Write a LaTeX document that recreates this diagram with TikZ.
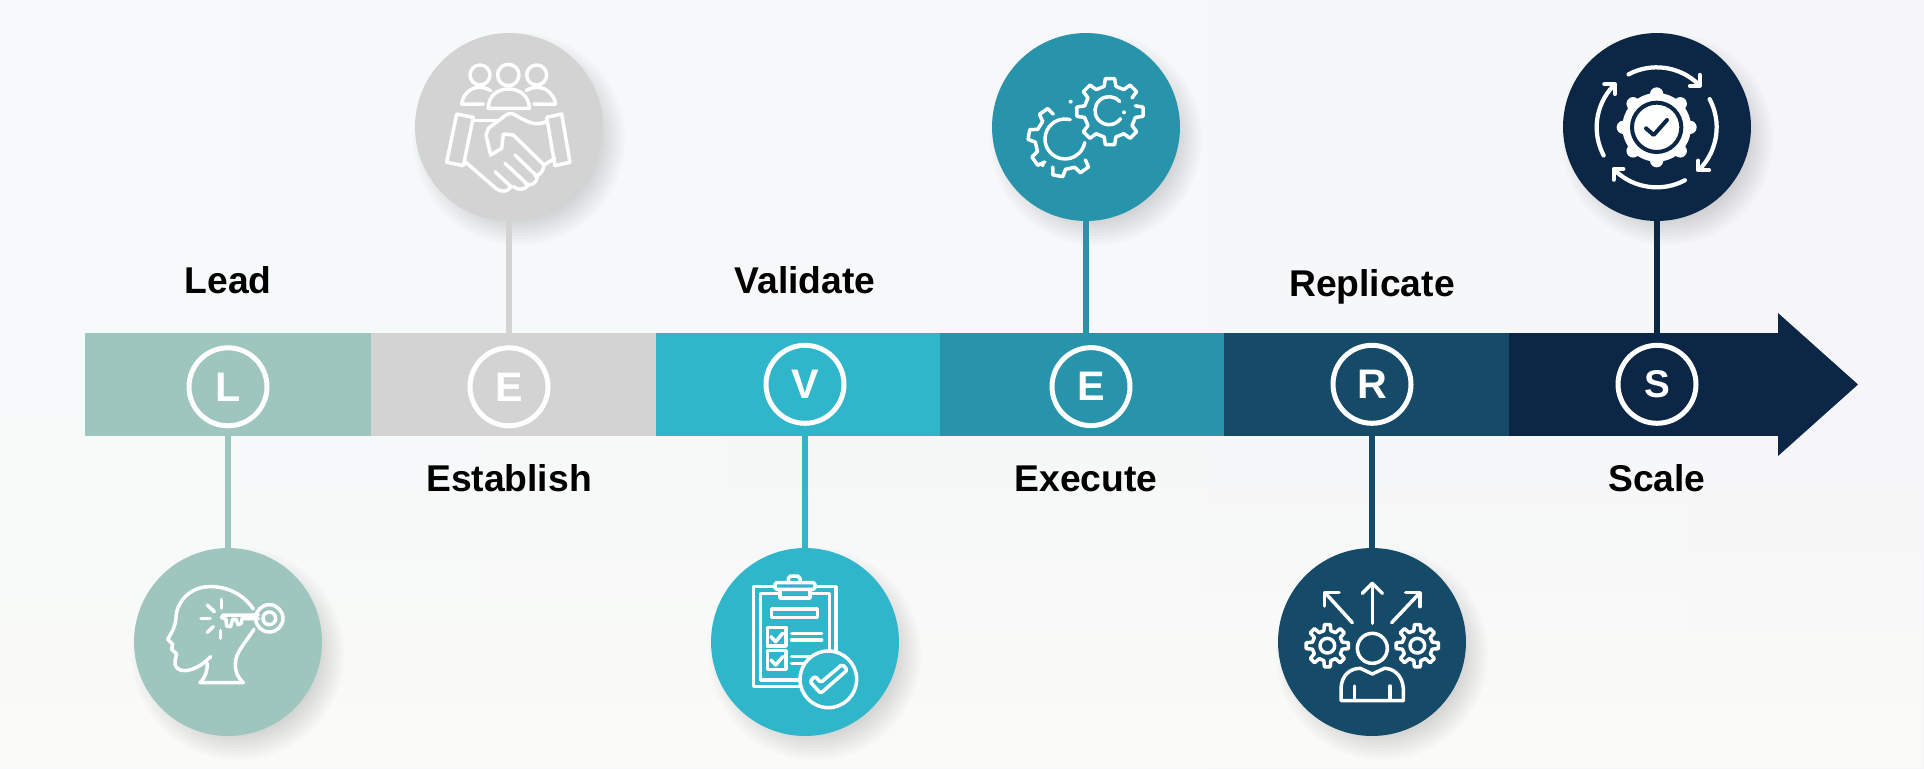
\documentclass[tikz,border=0pt]{standalone}
\usepackage{fontspec}
\setmainfont{Liberation Sans}
\usetikzlibrary{fadings}
\definecolor{clrLead}{HTML}{9FC5BF}
\definecolor{clrEstablish}{HTML}{D3D3D3}
\definecolor{clrValidate}{HTML}{2FB6CB}
\definecolor{clrExecute}{HTML}{2794AB}
\definecolor{clrReplicate}{HTML}{154B68}
\definecolor{clrScale}{HTML}{0C2646}
\definecolor{bgLeft}{HTML}{F6FAFA}
\definecolor{bgRight}{HTML}{F6F6F8}
\definecolor{bgLow}{HTML}{FBFBF8}
\tikzset{
	seg/.style={rectangle,inner sep=0pt,outer sep=0pt,minimum height=2.06cm},
	ltr/.style={circle,draw=white,line width=.1cm,inner sep=0pt,minimum size=1.56cm,text=white,font=\bfseries\fontsize{23.5}{28}\selectfont},
	bigdisc/.style={circle,inner sep=0pt,outer sep=0pt,minimum size=3.76cm},
	lbl/.style={anchor=base,inner sep=0pt,text=black,font=\bfseries\fontsize{21.2}{25}\selectfont},
	stem/.style={line width=.12cm},
	icn/.style={draw=white,line width=.07cm,line cap=round,line join=round},
	zoomed/.style={x=.00667cm,y=-.00667cm}
}
% soft shadow under a disc
\newcommand{\softshadow}[2]{
	\foreach \r in {70,73,...,106}
		\fill[black,opacity=.017] (#1+10,#2+12) circle [radius=\r];
}
% part of a gear outline: centre, outer radius, root radius, phase, first tooth, last tooth
\newcommand{\gearpart}[6]{
	\draw[icn,shift={#1}] ({#4+#5*45-13}:#3)
		\foreach \k in {#5,...,#6} {
			-- ({#4+\k*45-13}:#3) -- ({#4+\k*45-8}:#2) -- ({#4+\k*45+8}:#2) -- ({#4+\k*45+13}:#3)
		};
}
\begin{document}
\begin{tikzpicture}[x=.02cm,y=-.02cm]
	\useasboundingbox (0,0) rectangle (1924,768);
	\fill[left color=bgLeft,right color=bgRight] (0,0) rectangle (1924,768);
	\fill[bgLow,path fading=north] (0,420) rectangle (1924,768);

	\softshadow{228}{642}
	\softshadow{509}{127}
	\softshadow{805}{642}
	\softshadow{1086}{127}
	\softshadow{1372}{642}
	\softshadow{1657}{127}

	% the bar
	\node[seg,fill=clrLead,minimum width=5.73cm] (segLead) at (228,384.2) {};
	\node[seg,fill=clrEstablish,minimum width=5.72cm] (segEstablish) at (513.75,384.2) {};
	\node[seg,fill=clrValidate,minimum width=5.68cm] (segValidate) at (798.25,384.2) {};
	\node[seg,fill=clrExecute,minimum width=5.70cm] (segExecute) at (1082.3,384.2) {};
	\node[seg,fill=clrReplicate,minimum width=5.69cm] (segReplicate) at (1366.65,384.2) {};
	\node[seg,fill=clrScale,minimum width=5.39cm] (segScale) at (1643.35,384.2) {};
	\coordinate (tip) at (1858,384.5);
	\fill[clrScale] (1778,313) -- (tip) -- (1778,456) -- cycle;

	% letters
	\node[ltr] (ltrLead) at (228,386.8) {L};
	\node[ltr] (ltrEstablish) at (509,386.8) {E};
	\node[ltr] (ltrValidate) at (805,384.3) {V};
	\node[ltr] (ltrExecute) at (1091,386.6) {E};
	\node[ltr] (ltrReplicate) at (1372,384.3) {R};
	\node[ltr,font=\bfseries\fontsize{22}{26}\selectfont] (ltrScale) at (1657,384.3) {S};

	% discs
	\node[bigdisc,fill=clrLead] (discLead) at (228,642) {};
	\node[bigdisc,fill=clrEstablish] (discEstablish) at (509,127) {};
	\node[bigdisc,fill=clrValidate] (discValidate) at (805,642) {};
	\node[bigdisc,fill=clrExecute] (discExecute) at (1086,127) {};
	\node[bigdisc,fill=clrReplicate] (discReplicate) at (1372,642) {};
	\node[bigdisc,fill=clrScale] (discScale) at (1657,127) {};

	% stems
	\draw[stem,clrLead] (discLead.north) -- (discLead.north |- segLead.south);
	\draw[stem,clrEstablish] (discEstablish.south) -- (discEstablish.south |- segEstablish.north);
	\draw[stem,clrValidate] (discValidate.north) -- (discValidate.north |- segValidate.south);
	\draw[stem,clrExecute] (discExecute.south) -- (discExecute.south |- segExecute.north);
	\draw[stem,clrReplicate] (discReplicate.north) -- (discReplicate.north |- segReplicate.south);
	\draw[stem,clrScale] (discScale.south) -- (discScale.south |- segScale.north);

	% labels
	\node[lbl] (lblLead) at (228,293) {Lead};
	\node[lbl] (lblEstablish) at (509,491) {Establish};
	\node[lbl] (lblValidate) at (805,293) {Validate};
	\node[lbl] (lblExecute) at (1086,491) {Execute};
	\node[lbl] (lblReplicate) at (1372,296) {Replicate};
	\node[lbl] (lblScale) at (1657,491) {Scale};

	% head with key
	\begin{scope}[shift={(120,530)},zoomed]
		\draw[icn] (400,237) .. controls (365,185) and (310,168) .. (265,170) .. controls (210,172) and (170,215) .. (168,262) .. controls (167,285) and (160,300) .. (143,328) -- (158,343) -- (155,358) -- (170,372) -- (165,392) .. controls (162,412) and (175,422) .. (195,422) .. controls (225,420) and (250,402) .. (272,380);
		\draw[icn] (262,400) .. controls (262,420) and (258,440) .. (240,458) -- (370,458) .. controls (352,440) and (345,425) .. (346,400) .. controls (348,365) and (375,340) .. (402,298);
		\draw[icn] (448,265) circle [radius=41];
		\draw[icn] (448,265) circle [radius=19];
		\draw[icn] (415,255) -- (310,255) -- (305,262) -- (318,268) -- (320,288) -- (332,290) -- (338,268) -- (348,268) -- (354,284) -- (364,280) -- (366,266) -- (415,266);
		\draw[icn] (305,208) -- (305,235);
		\draw[icn] (262,225) -- (283,245);
		\draw[icn] (243,265) -- (270,265);
		\draw[icn] (262,307) -- (280,290);
		\draw[icn] (302,302) -- (302,325);
	\end{scope}

	% people and handshake
	\begin{scope}[shift={(400,20)},zoomed]
		\draw[icn] (240,165) circle [radius=30];
		\draw[icn] (325,165) circle [radius=32];
		\draw[icn] (410,165) circle [radius=30];
		\draw[icn] (272,212) .. controls (255,200) and (225,198) .. (208,212) .. controls (195,222) and (187,235) .. (185,252) -- (250,252);
		\draw[icn] (378,212) .. controls (395,200) and (425,198) .. (442,212) .. controls (455,222) and (465,235) .. (467,252) -- (402,252);
		\draw[icn] (265,265) .. controls (265,225) and (295,207) .. (327,207) .. controls (360,207) and (388,230) .. (388,265) -- cycle;
		\draw[icn] (170,282) -- (220,292) -- (190,437) -- (140,427) -- cycle;
		\draw[icn] (440,292) -- (485,282) -- (510,427) -- (465,437) -- cycle;
		\draw[icn] (220,302) -- (296,302);
		\draw[icn] (438,305) .. controls (410,318) and (390,310) .. (350,288) .. controls (340,280) and (330,278) .. (318,285) -- (265,325) -- (258,345) -- (272,405) -- (305,385) -- (310,342) -- (340,345) -- (432,435) .. controls (430,455) and (420,465) .. (405,468);
		\draw[icn] (432,435) -- (465,415);
		\draw[icn] (345,405) -- (412,470) .. controls (410,490) and (395,500) .. (375,490);
		\draw[icn] (315,430) -- (385,495) .. controls (375,510) and (355,512) .. (340,500);
		\draw[icn] (285,455) -- (333,500) .. controls (325,515) and (305,518) .. (290,507) -- (195,425);
	\end{scope}

	% clipboard
	\begin{scope}[shift={(700,530)},zoomed]
		\draw[icn] (300,470) -- (160,470) -- (160,170) -- (225,170);
		\draw[icn] (345,170) -- (408,170) -- (408,365);
		\draw[icn] (300,450) -- (182,450) -- (182,190) -- (240,190);
		\draw[icn] (330,190) -- (388,190) -- (388,360);
		\draw[icn] (265,158) -- (265,145) -- (272,138) -- (293,138) -- (300,145) -- (300,158);
		\draw[icn,rounded corners=1pt] (225,158) rectangle (345,178);
		\draw[icn] (240,178) -- (240,204) -- (330,204) -- (330,178);
		\draw[icn] (215,237) rectangle (352,262);
		\draw[icn] (202,292) rectangle (258,348);
		\draw[icn] (202,362) rectangle (258,418);
		\draw[icn] (213,320) -- (227,335) -- (248,310);
		\draw[icn] (213,390) -- (227,405) -- (248,380);
		\draw[icn] (275,310) -- (365,310);
		\draw[icn] (275,330) -- (365,330);
		\draw[icn] (275,380) -- (330,380);
		\draw[icn] (275,400) -- (310,400);
		\draw[icn] (385,448) circle [radius=85];
		\draw[icn,rounded corners=1pt] (330,455) -- (345,438) -- (362,458) -- (427,403) -- (442,420) -- (362,490) -- cycle;
	\end{scope}

	% two gears
	\begin{scope}[shift={(975,20)},zoomed]
		\gearpart{(405,275)}{100}{78}{0}{0}{7}
		\draw[icn] (402,272) ++(-40:42) arc [start angle=-40,end angle=-325,radius=42];
		\fill[white] (447,277) circle [radius=6];
		\gearpart{(267,362)}{108}{86}{10}{3}{5}
		\gearpart{(267,362)}{108}{86}{10}{1}{2}
		\draw[icn] (270,357) ++(-75:60) arc [start angle=-75,end angle=-350,radius=60];
		\fill[white] (287,245) circle [radius=6];
		\fill[white] (203,435) circle [radius=6];
	\end{scope}

	% person with arrows and gears
	\begin{scope}[shift={(1265,530)},zoomed]
		\draw[icn] (322,280) -- (322,160);
		\draw[icn] (292,190) -- (322,160) -- (352,190);
		\draw[icn] (262,278) -- (180,188);
		\draw[icn] (178,228) -- (178,188) -- (222,188);
		\draw[icn] (380,278) -- (465,188);
		\draw[icn] (422,188) -- (465,188) -- (465,230);
		\gearpart{(187,347)}{64}{46}{0}{0}{8}
		\draw[icn] (187,347) circle [radius=22];
		\gearpart{(457,347)}{64}{46}{0}{0}{8}
		\draw[icn] (457,347) circle [radius=22];
		\draw[icn] (322,355) circle [radius=45];
		\draw[icn] (228,512) -- (415,512) -- (415,475) .. controls (412,435) and (385,415) .. (358,415) -- (322,432) -- (286,415) .. controls (255,415) and (230,435) .. (228,475) -- cycle;
		\draw[icn] (268,468) -- (268,510);
		\draw[icn] (375,468) -- (375,510);
	\end{scope}

	% gear with turning arrows
	\begin{scope}[shift={(1545,20)},zoomed]
		\fill[white] (335,322) circle [radius=103];
		\foreach \a in {0,45,...,315}
			\fill[white] (335,322) ++(\a:100) circle [radius=20];
		\draw[clrScale,line width=.08cm] (335,322) circle [radius=74];
		\draw[clrScale,line width=.08cm,line cap=round,line join=round] (303,325) -- (326,345) -- (366,300);
		\foreach \a in {0,90,180,270} {
			\begin{scope}[rotate around={-\a:(335,322)}]
				\draw[icn,line width=.085cm] (335,322) ++(-118:180) arc [start angle=-118,end angle=-47,radius=180];
				\draw[icn,line width=.085cm] (435,197) -- (464,197) -- (464,165);
			\end{scope}
		}
	\end{scope}
\end{tikzpicture}
\end{document}
